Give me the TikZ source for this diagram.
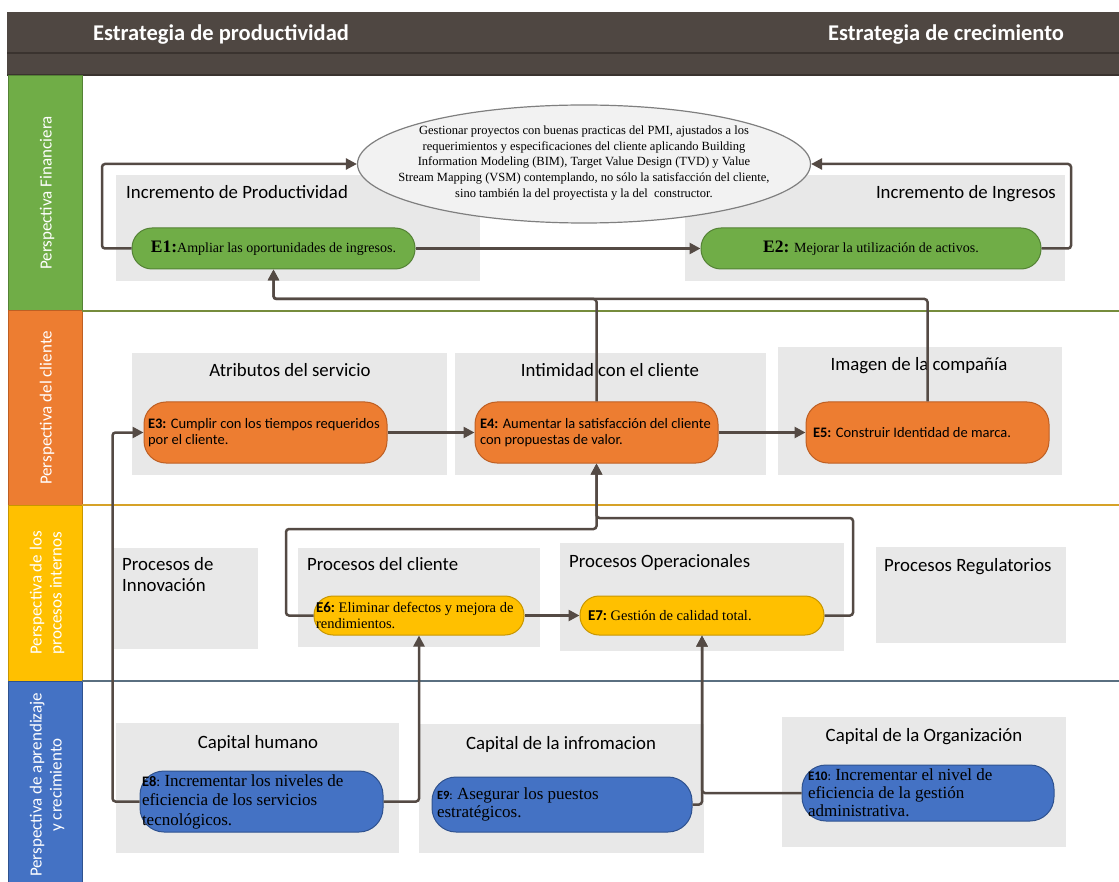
\documentclass[tikz,border=0pt]{standalone}
\usepackage{fontspec}
\setmainfont{Liberation Serif}
\newfontfamily\calfont{Carlito}
\usetikzlibrary{arrows.meta,shapes.geometric}
\definecolor{hdr}{RGB}{79,71,66}
\definecolor{hdrline}{RGB}{58,51,47}
\definecolor{boxgray}{RGB}{232,232,232}
\definecolor{connc}{RGB}{84,74,68}
\definecolor{gfill}{RGB}{112,173,71}
\definecolor{gdraw}{RGB}{84,130,53}
\definecolor{ofill}{RGB}{237,125,49}
\definecolor{odraw}{RGB}{190,95,35}
\definecolor{yfill}{RGB}{255,192,0}
\definecolor{ydraw}{RGB}{200,150,0}
\definecolor{bfill}{RGB}{68,114,196}
\definecolor{bdraw}{RGB}{47,82,143}
\definecolor{sepG}{RGB}{118,140,60}
\definecolor{sepY}{RGB}{214,162,40}
\definecolor{sepB}{RGB}{90,111,128}
\definecolor{ellfill}{RGB}{242,242,242}
\definecolor{elldraw}{RGB}{127,127,127}
\begin{document}
\begin{tikzpicture}[x=1pt,y=-1pt,
  conn/.style={draw=connc, line width=2.5pt, rounded corners=3pt},
  arr/.style={conn, -{Triangle[length=11pt,width=11pt]}},
  cat/.style={font=\calfont\fontsize{18.8}{22}\selectfont, inner sep=0pt},
  bandlbl/.style={rotate=90, text=white, align=center, font=\calfont\fontsize{17}{20}\selectfont, inner sep=0pt},
  pill/.style={draw, line width=1pt, inner ysep=0pt, align=flush left},
  gpill/.style={pill, fill=gfill, draw=gdraw},
  opill/.style={pill, fill=ofill, draw=odraw, font=\calfont\fontsize{14.5}{16}\selectfont},
  ypill/.style={pill, fill=yfill, draw=ydraw, font=\fontsize{14.5}{16.5}\selectfont},
  bpill/.style={pill, fill=bfill, draw=bdraw, font=\fontsize{17}{19.5}\selectfont},
  ttl/.style={text=white, font=\calfont\bfseries\fontsize{22.5}{26}\selectfont, inner sep=0pt}
]
\useasboundingbox (0,0) rectangle (1119,882);
% header
\fill[hdr] (7,12) rectangle (1119,75);
\draw[hdrline, line width=2pt] (7,53) -- (1119,53);
\draw[hdrline, line width=2pt] (7,75) -- (1119,75);
\node[ttl, anchor=base west] (t1) at (93,41) {Estrategia de productividad};
\node[ttl, anchor=base west] (t2) at (828,41) {Estrategia de crecimiento};
% bands
\filldraw[fill=gfill, draw=gdraw, line width=1pt] (8,76) rectangle (82,311);
\filldraw[fill=ofill, draw=odraw, line width=1pt] (8,311) rectangle (82,505);
\filldraw[fill=yfill, draw=ydraw, line width=1pt] (8,505) rectangle (82,681);
\filldraw[fill=bfill, draw=bdraw, line width=1pt] (8,681) rectangle (82,884);
\node[bandlbl] (bF) at (47,193) {Perspectiva Financiera};
\node[bandlbl] (bC) at (47,408) {Perspectiva del cliente};
\node[bandlbl] (bP) at (47,593) {Perspectiva de los\\procesos internos};
\node[bandlbl] (bA) at (47,785) {Perspectiva de aprendizaje\\y crecimiento};
% separators
\draw[sepG, line width=2pt] (82,311) -- (1119,311);
\draw[sepY, line width=2pt] (82,505) -- (1119,505);
\draw[sepB, line width=2pt] (82,681) -- (1119,681);
% gray boxes
\fill[boxgray] (116,175) rectangle (480,281);
\fill[boxgray] (685,175) rectangle (1065,281);
\fill[boxgray] (132,353) rectangle (447,475);
\fill[boxgray] (455,353) rectangle (766,475);
\fill[boxgray] (778,347) rectangle (1062,475);
\fill[boxgray] (114,548) rectangle (258,649);
\fill[boxgray] (298,548) rectangle (540,647);
\fill[boxgray] (560,543) rectangle (844,651);
\fill[boxgray] (876,547) rectangle (1066,643);
\fill[boxgray] (116,723) rectangle (399,853);
\fill[boxgray] (419,724) rectangle (704,853);
\fill[boxgray] (782,717) rectangle (1066,847);
% category labels
\node[cat, anchor=base west] (cIP) at (126,199) {Incremento de Productividad};
\node[cat, anchor=base east] (cII) at (1056,199) {Incremento de Ingresos};
\node[cat, anchor=base] (cAS) at (290,377) {Atributos del servicio};
\node[cat, anchor=base] (cIC) at (610,377) {Intimidad con el cliente};
\node[cat, anchor=base] (cImg) at (919,371) {Imagen de la compañía};
\node[cat, anchor=base west] (cPI1) at (122,570) {Procesos de};
\node[cat, anchor=base west] (cPI2) at (122,591) {Innovación};
\node[cat, anchor=base west] (cPC) at (307,570) {Procesos del cliente};
\node[cat, anchor=base west] (cPO) at (569,567) {Procesos Operacionales};
\node[cat, anchor=base west] (cPR) at (884,571) {Procesos Regulatorios};
\node[cat, anchor=base] (cCH) at (258,748) {Capital humano};
\node[cat, anchor=base] (cCI) at (561,749) {Capital de la infromacion};
\node[cat, anchor=base] (cCO) at (924,741) {Capital de la Organización};
% ellipse
\node[ellipse, draw=elldraw, fill=ellfill, line width=1.2pt, minimum width=453pt, minimum height=118pt, inner sep=0pt] (ell) at (584,164) {};
\node[align=center, inner sep=0pt, font=\fontsize{12.5}{15.7}\selectfont] (ellT) at (584,163)
 {Gestionar proyectos con buenas practicas del PMI, ajustados a los\\requerimientos y especificaciones del cliente aplicando Building\\Information Modeling (BIM), Target Value Design (TVD) y Value\\Stream Mapping (VSM) contemplando, no sólo la satisfacción del cliente,\\sino también la del proyectista y la del\ \ constructor.};
% E nodes
\node[gpill, rounded corners=20pt, minimum width=283pt, minimum height=41pt, inner xsep=0pt, align=center, font=\fontsize{14}{16}\selectfont] (E1) at (273.5,248.5)
 {{\fontsize{17.5}{20}\selectfont\bfseries E1:}Ampliar las oportunidades de ingresos.};
\node[gpill, rounded corners=20pt, minimum width=340pt, minimum height=41pt, inner xsep=0pt, align=center, font=\fontsize{14}{16}\selectfont] (E2) at (871,248.5)
 {{\fontsize{17.5}{20}\selectfont\bfseries E2:} Mejorar la utilización de activos.};
\node[opill, rounded corners=22pt, minimum height=61pt, inner xsep=4pt, text width=235pt] (E3) at (265.5,432.5)
 {\textbf{E3:} Cumplir con los tiempos requeridos\\por el cliente.};
\node[opill, rounded corners=22pt, minimum height=61pt, inner xsep=5pt, text width=233pt] (E4) at (596.5,432.5)
 {\textbf{E4:} Aumentar la satisfacción del cliente\\con propuestas de valor.};
\node[opill, rounded corners=22pt, minimum height=61pt, inner xsep=7pt, text width=229pt] (E5) at (927.5,432.5)
 {\textbf{E5:} Construir Identidad de marca.};
\node[ypill, rounded corners=19pt, minimum height=39pt, inner xsep=2pt, text width=206pt] (E6) at (419,615.5)
 {{\calfont\bfseries\fontsize{15}{16}\selectfont E6:}~Eliminar defectos y mejora de\\rendimientos.};
\node[ypill, rounded corners=19pt, minimum height=39pt, inner xsep=8pt, text width=228pt] (E7) at (702,615.5)
 {{\calfont\bfseries\fontsize{15}{16}\selectfont E7:}~Gestión de calidad total.};
\node[bpill, rounded corners=24pt, minimum height=61pt, inner xsep=2pt, text width=239pt] (E8) at (261.5,801.5)
 {{\calfont\fontsize{14.5}{16}\selectfont\textbf{E8}:}~Incrementar los niveles de\\eficiencia de los servicios\\tecnológicos.};
\node[bpill, rounded corners=24pt, minimum height=55pt, inner xsep=5pt, text width=250pt, font=\fontsize{17}{18.5}\selectfont] (E9) at (562,804.5)
 {{\calfont\fontsize{12.5}{14}\selectfont\textbf{E9}:}~Asegurar los puestos\\estratégicos.};
\node[bpill, rounded corners=24pt, minimum height=56pt, inner xsep=6pt, text width=240pt, font=\fontsize{17}{18}\selectfont] (E10) at (928,793)
 {{\calfont\fontsize{13}{14}\selectfont\textbf{E10}:}~Incrementar el nivel de\\eficiencia de la gestión\\administrativa.};
% connectors
\draw[arr] (E1.west) -- (102,248.5) -- (102,164) -- (ell.west);
\draw[arr] (E1.east) -- (E2.west);
\draw[arr] (E2.east) -- (1071,248.5) -- (1071,164) -- (ell.east);
\draw[arr] (E5.north) -- (927.5,299) -- (273.5,299) -- (E1.south);
\draw[arr] (E4.north) -- (596.5,299) -- (273.5,299) -- (E1.south);
\draw[arr] (E3.east) -- (E4.west);
\draw[arr] (E4.east) -- (E5.west);
\draw[arr] (E8.west) -- (112.5,801.5) -- (112.5,432.5) -- (E3.west);
\draw[arr] (E8.east) -- (419,801.5) -- (E6.south);
\draw[arr] (E6.east) -- (E7.west);
\draw[arr] (E6.west) -- (286,615.5) -- (286,529) -- (596.5,529) -- (E4.south);
\draw[arr] (E7.east) -- (853,615.5) -- (853,518) -- (596.5,518) -- (E4.south);
\draw[arr] (E9.east) -- (702,804.5) -- (E7.south);
\draw[arr] (E10.west) -- (702,793) -- (E7.south);
\end{tikzpicture}
\end{document}
